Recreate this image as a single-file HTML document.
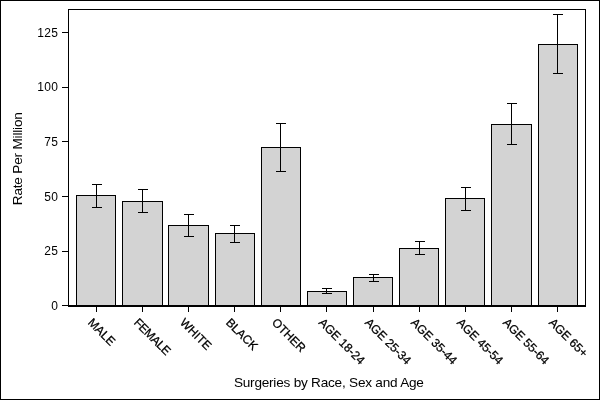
<!DOCTYPE html>
<html><head><meta charset="utf-8"><title>Surgeries by Race, Sex and Age</title>
<style>
html,body{margin:0;padding:0;background:#fff;}
svg{display:block;font-family:"Liberation Sans",Arial,sans-serif;font-size:12px;fill:#000;}
</style></head><body>
<svg width="600" height="400" viewBox="0 0 600 400">
<rect x="0.5" y="0.5" width="599" height="399" fill="#fff" stroke="#000" stroke-width="1"/>
<rect x="68.5" y="9.5" width="517" height="296" fill="#fff" stroke="#000" stroke-width="1"/>

<rect x="76.5" y="195.5" width="39" height="110.5" fill="#d3d3d3" stroke="#000" stroke-width="1"/>
<rect x="122.5" y="201.5" width="40" height="104.5" fill="#d3d3d3" stroke="#000" stroke-width="1"/>
<rect x="168.5" y="225.5" width="40" height="80.5" fill="#d3d3d3" stroke="#000" stroke-width="1"/>
<rect x="215.5" y="233.5" width="39" height="72.5" fill="#d3d3d3" stroke="#000" stroke-width="1"/>
<rect x="261.5" y="147.5" width="39" height="158.5" fill="#d3d3d3" stroke="#000" stroke-width="1"/>
<rect x="307.5" y="291.5" width="39" height="14.5" fill="#d3d3d3" stroke="#000" stroke-width="1"/>
<rect x="353.5" y="277.5" width="39" height="28.5" fill="#d3d3d3" stroke="#000" stroke-width="1"/>
<rect x="399.5" y="248.5" width="39" height="57.5" fill="#d3d3d3" stroke="#000" stroke-width="1"/>
<rect x="445.5" y="198.5" width="39" height="107.5" fill="#d3d3d3" stroke="#000" stroke-width="1"/>
<rect x="491.5" y="124.5" width="40" height="181.5" fill="#d3d3d3" stroke="#000" stroke-width="1"/>
<rect x="538.5" y="44.5" width="39" height="261.5" fill="#d3d3d3" stroke="#000" stroke-width="1"/>
<line x1="68" y1="306" x2="586" y2="306" stroke="#000" stroke-width="2"/>
<path d="M96.5 184.5V207.5M92.0 184.5H102.0M92.0 207.5H102.0" stroke="#000" stroke-width="1" fill="none"/>
<path d="M142.5 189.5V212.5M138.0 189.5H148.0M138.0 212.5H148.0" stroke="#000" stroke-width="1" fill="none"/>
<path d="M188.5 214.5V236.5M184.0 214.5H194.0M184.0 236.5H194.0" stroke="#000" stroke-width="1" fill="none"/>
<path d="M234.5 225.5V242.5M230.0 225.5H240.0M230.0 242.5H240.0" stroke="#000" stroke-width="1" fill="none"/>
<path d="M280.5 123.5V171.5M276.0 123.5H286.0M276.0 171.5H286.0" stroke="#000" stroke-width="1" fill="none"/>
<path d="M326.5 288.5V293.5M322.0 288.5H332.0M322.0 293.5H332.0" stroke="#000" stroke-width="1" fill="none"/>
<path d="M373.5 274.5V281.5M369.0 274.5H379.0M369.0 281.5H379.0" stroke="#000" stroke-width="1" fill="none"/>
<path d="M419.5 241.5V254.5M415.0 241.5H425.0M415.0 254.5H425.0" stroke="#000" stroke-width="1" fill="none"/>
<path d="M465.5 187.5V210.5M461.0 187.5H471.0M461.0 210.5H471.0" stroke="#000" stroke-width="1" fill="none"/>
<path d="M511.5 103.5V144.5M507.0 103.5H517.0M507.0 144.5H517.0" stroke="#000" stroke-width="1" fill="none"/>
<path d="M557.5 14.5V73.5M553.0 14.5H563.0M553.0 73.5H563.0" stroke="#000" stroke-width="1" fill="none"/>
<line x1="62" y1="305.5" x2="68" y2="305.5" stroke="#000"/>
<text x="58.4" y="309.8" text-anchor="end" letter-spacing="0.35">0</text>
<line x1="62" y1="251.5" x2="68" y2="251.5" stroke="#000"/>
<text x="58.4" y="254.8" text-anchor="end" letter-spacing="0.35">25</text>
<line x1="62" y1="196.5" x2="68" y2="196.5" stroke="#000"/>
<text x="58.4" y="200.8" text-anchor="end" letter-spacing="0.35">50</text>
<line x1="62" y1="141.5" x2="68" y2="141.5" stroke="#000"/>
<text x="58.4" y="145.8" text-anchor="end" letter-spacing="0.35">75</text>
<line x1="62" y1="87.5" x2="68" y2="87.5" stroke="#000"/>
<text x="58.4" y="90.8" text-anchor="end" letter-spacing="0.35">100</text>
<line x1="62" y1="32.5" x2="68" y2="32.5" stroke="#000"/>
<text x="58.4" y="36.8" text-anchor="end" letter-spacing="0.35">125</text>
<line x1="96.5" y1="307" x2="96.5" y2="312" stroke="#000"/>
<text transform="translate(87.2,323.3) rotate(45)" x="0" y="0" stroke="#000" stroke-width="0.25">MALE</text>
<line x1="142.5" y1="307" x2="142.5" y2="312" stroke="#000"/>
<text transform="translate(133.2,323.3) rotate(45)" x="0" y="0" stroke="#000" stroke-width="0.25" textLength="46.2" lengthAdjust="spacing">FEMALE</text>
<line x1="188.5" y1="307" x2="188.5" y2="312" stroke="#000"/>
<text transform="translate(179.2,323.3) rotate(45)" x="0" y="0" stroke="#000" stroke-width="0.25">WHITE</text>
<line x1="234.5" y1="307" x2="234.5" y2="312" stroke="#000"/>
<text transform="translate(225.2,323.3) rotate(45)" x="0" y="0" stroke="#000" stroke-width="0.25">BLACK</text>
<line x1="280.5" y1="307" x2="280.5" y2="312" stroke="#000"/>
<text transform="translate(271.2,323.3) rotate(45)" x="0" y="0" stroke="#000" stroke-width="0.25">OTHER</text>
<line x1="326.5" y1="307" x2="326.5" y2="312" stroke="#000"/>
<text transform="translate(318.0,323.3) rotate(45)" x="0" y="0" stroke="#000" stroke-width="0.25">AGE 18-24</text>
<line x1="373.5" y1="307" x2="373.5" y2="312" stroke="#000"/>
<text transform="translate(364.2,323.3) rotate(45)" x="0" y="0" stroke="#000" stroke-width="0.25">AGE 25-34</text>
<line x1="419.5" y1="307" x2="419.5" y2="312" stroke="#000"/>
<text transform="translate(410.2,323.3) rotate(45)" x="0" y="0" stroke="#000" stroke-width="0.25">AGE 35-44</text>
<line x1="465.5" y1="307" x2="465.5" y2="312" stroke="#000"/>
<text transform="translate(456.2,323.3) rotate(45)" x="0" y="0" stroke="#000" stroke-width="0.25">AGE 45-54</text>
<line x1="511.5" y1="307" x2="511.5" y2="312" stroke="#000"/>
<text transform="translate(502.2,323.3) rotate(45)" x="0" y="0" stroke="#000" stroke-width="0.25">AGE 55-64</text>
<line x1="557.5" y1="307" x2="557.5" y2="312" stroke="#000"/>
<text transform="translate(548.2,323.3) rotate(45)" x="0" y="0" stroke="#000" stroke-width="0.25">AGE 65+</text>
<text transform="translate(22,158.7) rotate(-90)" text-anchor="middle" font-size="13.6" textLength="93" lengthAdjust="spacing">Rate Per Million</text>
<text x="328.9" y="387" text-anchor="middle" font-size="13.6" textLength="190" lengthAdjust="spacing">Surgeries by Race, Sex and Age</text>
</svg></body></html>
